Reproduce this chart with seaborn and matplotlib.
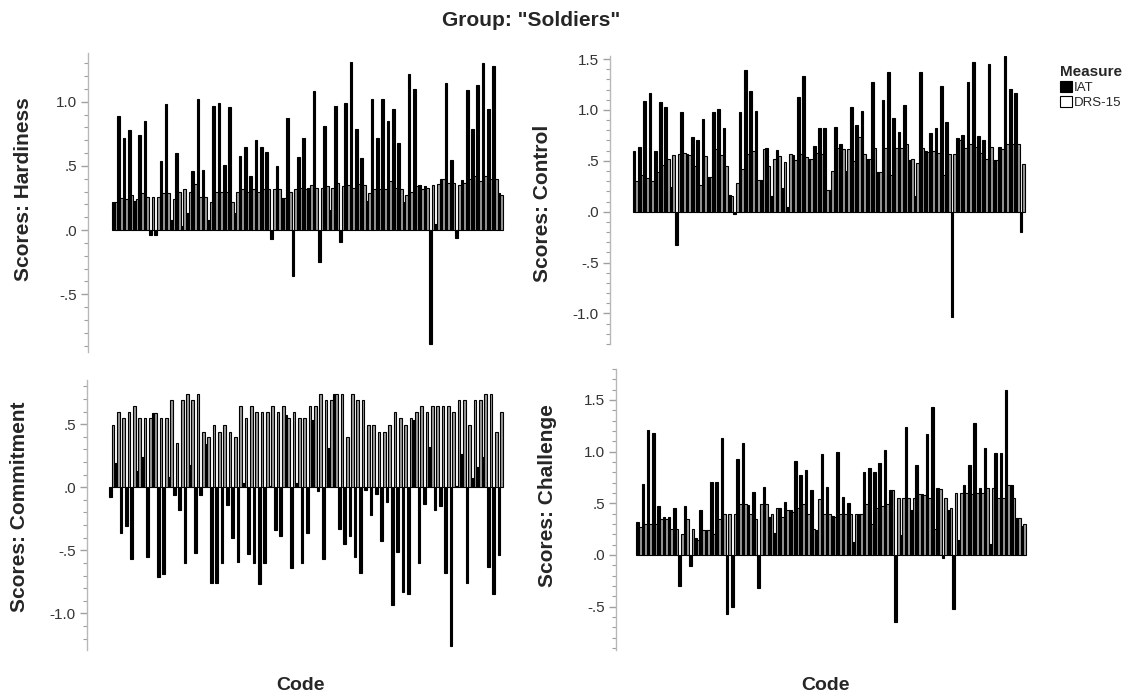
import matplotlib
matplotlib.use("Agg")
import matplotlib.pyplot as plt
from matplotlib.patches import Patch
from matplotlib.ticker import MultipleLocator, FuncFormatter
import seaborn as sns
import pandas as pd

# Soldier codes (not labelled on the x axis)
codes = list(range(1, 75))
measures = ["IAT", "DRS-15"]

hardiness_iat = [0.22, 0.89, 0.72, 0.78, 0.23, 0.74, 0.85, -0.04, -0.04, 0.54,
                 0.98, 0.08, 0.60, 0.03, 0.13, 0.46, 1.02, 0.47, 0.08, 0.97,
                 0.99, 0.51, 0.96, 0.13, 0.58, 0.65, 0.42, 0.70, 0.65, 0.61,
                 -0.07, 0.50, 0.25, 0.87, -0.36, 0.57, 0.72, 0.33, 1.08, -0.25,
                 0.81, 0.16, 0.97, -0.09, 0.99, 1.31, 0.79, 0.56, 0.23, 1.02,
                 0.72, 1.02, 0.85, 0.94, 0.68, 0.22, 1.22, 1.10, 0.35, 0.34,
                 -0.89, 0.05, 0.40, 1.15, 0.55, -0.06, 0.39, 1.09, 0.79, 1.13,
                 1.30, 0.94, 1.28, 0.29]
hardiness_drs = [0.22, 0.25, 0.24, 0.27, 0.24, 0.29, 0.26, 0.26, 0.26, 0.29,
                 0.29, 0.24, 0.30, 0.32, 0.30, 0.36, 0.26, 0.26, 0.22, 0.30,
                 0.30, 0.30, 0.22, 0.30, 0.32, 0.30, 0.32, 0.30, 0.32, 0.32,
                 0.32, 0.32, 0.25, 0.30, 0.32, 0.33, 0.32, 0.35, 0.33, 0.33,
                 0.34, 0.33, 0.37, 0.34, 0.35, 0.33, 0.36, 0.35, 0.29, 0.32,
                 0.32, 0.32, 0.38, 0.33, 0.32, 0.27, 0.30, 0.34, 0.32, 0.33,
                 0.35, 0.36, 0.40, 0.37, 0.37, 0.35, 0.37, 0.40, 0.42, 0.38,
                 0.42, 0.40, 0.40, 0.27]

control_iat = [0.60, 0.64, 1.09, 1.17, 0.60, 1.08, 1.03, 0.24, -0.33, 0.98,
               0.57, 0.73, 0.70, 0.91, 0.34, 0.98, 1.01, 0.82, 0.16, -0.02,
               0.98, 1.39, 1.19, 0.99, 0.31, 0.63, 0.15, 0.61, 0.23, 0.05,
               0.56, 1.13, 1.33, 0.52, 0.65, 0.82, 0.82, 0.21, 0.83, 0.67,
               0.40, 1.03, 0.85, 0.99, 0.52, 1.27, 0.39, 1.10, 1.37, 0.92,
               0.78, 1.05, 0.51, 0.15, 1.37, 0.60, 0.77, 0.82, 1.24, 0.88,
               -1.03, 0.72, 0.75, 1.27, 1.47, 0.74, 0.70, 1.45, 0.51, 0.64,
               1.53, 1.21, 1.17, -0.20]
control_drs = [0.30, 0.36, 0.33, 0.30, 0.39, 0.46, 0.52, 0.56, 0.57, 0.58,
               0.56, 0.45, 0.26, 0.55, 0.34, 0.62, 0.56, 0.45, 0.15, 0.28,
               0.42, 0.57, 0.60, 0.31, 0.62, 0.45, 0.52, 0.55, 0.49, 0.57,
               0.51, 0.57, 0.54, 0.52, 0.58, 0.57, 0.21, 0.40, 0.63, 0.62,
               0.62, 0.50, 0.73, 0.57, 0.52, 0.63, 0.39, 0.63, 0.36, 0.63,
               0.63, 0.67, 0.52, 0.48, 0.63, 0.59, 0.60, 0.58, 0.36, 0.57,
               0.57, 0.70, 0.63, 0.67, 0.64, 0.58, 0.52, 0.64, 0.51, 0.62,
               0.67, 0.67, 0.67, 0.47]

commitment_iat = [-0.08, 0.19, -0.36, -0.31, -0.57, 0.13, 0.24, -0.55, 0.59, -0.71,
                  -0.69, 0.08, -0.06, -0.18, -0.60, 0.18, -0.52, -0.06, 0.34, -0.76,
                  -0.76, -0.60, -0.14, -0.40, -0.59, 0.03, -0.53, -0.60, -0.77, -0.60,
                  0.01, -0.34, -0.39, 0.57, -0.64, 0.03, -0.60, -0.36, 0.53, -0.03,
                  -0.57, 0.31, 0.74, -0.33, -0.45, -0.39, -0.55, -0.68, -0.02, -0.22,
                  -0.05, -0.43, -0.12, -0.93, -0.51, -0.83, -0.85, 0.53, -0.60, -0.13,
                  0.32, -0.18, -0.15, -0.68, -1.26, 0.01, 0.26, -0.76, 0.07, 0.16,
                  0.24, -0.63, -0.85, -0.54]
commitment_drs = [0.49, 0.60, 0.55, 0.60, 0.64, 0.55, 0.55, 0.55, 0.59, 0.55,
                  0.55, 0.69, 0.35, 0.69, 0.74, 0.69, 0.74, 0.44, 0.40, 0.49,
                  0.44, 0.49, 0.44, 0.40, 0.64, 0.55, 0.64, 0.60, 0.60, 0.60,
                  0.64, 0.60, 0.64, 0.55, 0.60, 0.55, 0.55, 0.64, 0.64, 0.74,
                  0.69, 0.69, 0.74, 0.74, 0.40, 0.74, 0.69, 0.69, 0.49, 0.49,
                  0.44, 0.44, 0.49, 0.60, 0.55, 0.49, 0.55, 0.60, 0.64, 0.60,
                  0.64, 0.64, 0.64, 0.64, 0.60, 0.69, 0.69, 0.49, 0.69, 0.69,
                  0.74, 0.74, 0.44, 0.60]

challenge_iat = [0.32, 0.69, 1.21, 1.18, 0.47, 0.37, 0.37, 0.45, -0.30, 0.47,
                 -0.11, 0.16, 0.44, 0.24, 0.71, 0.71, 1.13, -0.57, -0.50, 0.93,
                 1.08, 0.48, 0.61, -0.32, 0.66, 0.37, 0.21, 0.45, 0.51, 0.44,
                 0.91, 0.77, 0.82, 0.63, 0.24, 0.98, 0.66, 0.38, 1.00, 0.56,
                 0.50, 0.13, 0.40, 0.80, 0.84, 0.80, 0.89, 1.02, 0.63, -0.65,
                 0.19, 1.24, 0.44, 0.87, 0.59, 1.17, 1.43, 0.65, -0.03, 0.44,
                 -0.52, 0.14, 0.68, 0.87, 1.28, 0.65, 1.04, 0.11, 0.99, 0.99,
                 1.60, 0.68, 0.36, 0.28]
challenge_drs = [0.27, 0.30, 0.30, 0.30, 0.35, 0.35, 0.25, 0.25, 0.20, 0.35,
                 0.25, 0.14, 0.24, 0.24, 0.20, 0.35, 0.40, 0.40, 0.40, 0.49,
                 0.49, 0.40, 0.35, 0.49, 0.49, 0.40, 0.45, 0.37, 0.44, 0.42,
                 0.45, 0.49, 0.40, 0.25, 0.54, 0.40, 0.40, 0.37, 0.40, 0.40,
                 0.40, 0.40, 0.40, 0.49, 0.30, 0.45, 0.47, 0.49, 0.63, 0.55,
                 0.55, 0.55, 0.55, 0.59, 0.58, 0.55, 0.25, 0.64, 0.55, 0.45,
                 0.60, 0.60, 0.60, 0.59, 0.60, 0.60, 0.65, 0.65, 0.55, 0.55,
                 0.68, 0.55, 0.36, 0.30]

W, H = 1137, 697

# panel: (name, iat, drs, axes box in px [left, top, right, bottom], ylim, xlim left,
#         ylabel right edge / centre in px, show xlabel)
panels = [
    ("Hardiness", hardiness_iat, hardiness_drs, (88, 53, 505, 352), (-0.95, 1.38), -5.05, (33, 189), False),
    ("Control", control_iat, control_drs, (610, 56, 1027, 344), (-1.30, 1.53), -4.78, (552, 203), False),
    ("Commitment", commitment_iat, commitment_drs, (87, 380, 505, 650), (-1.29, 0.85), -4.63, (29, 507), True),
    ("Challenge", challenge_iat, challenge_drs, (616, 369, 1028, 650), (-0.92, 1.80), -4.35, (557, 496), True),
]

sns.set_theme(style="white")
plt.rcParams["font.family"] = ["Liberation Sans", "DejaVu Sans"]

fig = plt.figure(figsize=(W / 100, H / 100), dpi=100)

palette = {"IAT": "black", "DRS-15": "#999999"}


def fmt(v, pos):
    s = f"{v:.1f}"
    return s.replace("0.", ".", 1) if s.lstrip("-").startswith("0.") else s


for name, iat, drs, box, ylim, xleft, lab, show_x in panels:
    l, t, r, b = box
    ax = fig.add_axes([l / W, 1 - b / H, (r - l) / W, (b - t) / H])
    df = pd.DataFrame({
        "Code": codes + codes,
        "Measure": ["IAT"] * len(codes) + ["DRS-15"] * len(codes),
        "Score": iat + drs,
    })
    sns.barplot(data=df, x="Code", y="Score", hue="Measure", hue_order=measures,
                palette=palette, width=1.0, gap=0, errorbar=None,
                edgecolor="black", linewidth=0.8, legend=False, ax=ax)
    ax.set_ylim(*ylim)
    ax.set_xlim(xleft, len(codes) - 0.1)
    for side in ["top", "right", "bottom"]:
        ax.spines[side].set_visible(False)
    ax.spines["left"].set_color("#b8b8b8")
    ax.spines["left"].set_linewidth(1.0)
    ax.set_xticks([])
    ax.yaxis.set_major_locator(MultipleLocator(0.5))
    ax.yaxis.set_minor_locator(MultipleLocator(0.1))
    ax.yaxis.set_major_formatter(FuncFormatter(fmt))
    ax.tick_params(axis="y", which="major", left=True, length=5, width=1,
                   color="#a0a0a0", labelsize=11, labelcolor="#333333", pad=3)
    ax.tick_params(axis="y", which="minor", left=True, length=3, width=0.8,
                   color="#a0a0a0")
    ax.set_ylabel(f"Scores: {name}", fontsize=15, fontweight="bold")
    ax.yaxis.set_label_coords((lab[0] - l) / (r - l), (b - lab[1]) / (b - t))
    if show_x:
        ax.set_xlabel("Code", fontsize=14, fontweight="bold")
        cx = 300 if l < 500 else 826
        ax.xaxis.set_label_coords((cx - l) / (r - l), (b - 677) / (b - t))
    else:
        ax.set_xlabel("")

fig.text(531 / W, 1 - 21 / H, 'Group: "Soldiers"', ha="center", va="center",
         fontsize=15, fontweight="bold")

handles = [Patch(facecolor="black", edgecolor="black", linewidth=0.8),
           Patch(facecolor="white", edgecolor="black", linewidth=0.8)]
leg = fig.legend(handles, measures, title="Measure", loc="upper left",
                 bbox_to_anchor=(1055 / W, 1 - 60 / H), frameon=False,
                 fontsize=9.5, handlelength=0.9, handleheight=0.9,
                 handletextpad=0.1, labelspacing=0.15, borderaxespad=0,
                 alignment="left")
leg.get_title().set_fontweight("bold")
leg.get_title().set_fontsize(11)

fig.savefig("out.png", dpi=100)
